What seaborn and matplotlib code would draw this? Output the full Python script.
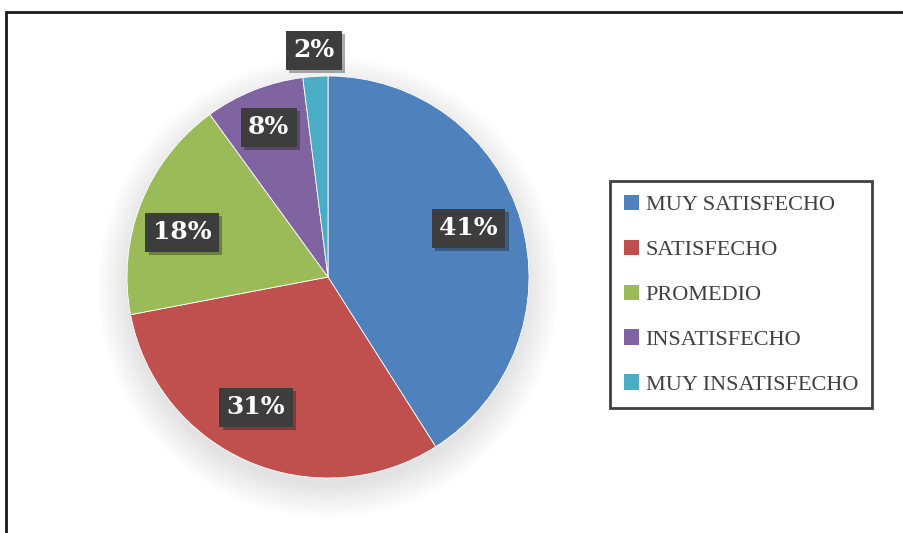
import numpy as np
import matplotlib
matplotlib.use("Agg")
import matplotlib.pyplot as plt
import matplotlib.patheffects as pe
from matplotlib.patches import Rectangle, Circle
import seaborn as sns

categories = ["MUY SATISFECHO", "SATISFECHO", "PROMEDIO", "INSATISFECHO", "MUY INSATISFECHO"]
values = [41, 31, 18, 8, 2]
labels = ["41%", "31%", "18%", "8%", "2%"]
colors = ["#4F81BD", "#C0504D", "#9BBB59", "#8064A2", "#4BACC6"]

sns.set_theme(style="white")
plt.rcParams["font.family"] = ["Liberation Serif", "DejaVu Serif"]

W, H = 904, 533
fig = plt.figure(figsize=(W / 100, H / 100), dpi=100)
fig.patch.set_facecolor("white")

# outer frame (left and top visible, extends off-canvas)
fig.patches.append(Rectangle((6 / W, -0.2), 1.2, 1.2 - 12 / H, transform=fig.transFigure,
                             fill=False, edgecolor="#1a1a1a", linewidth=2.0, clip_on=False))

cx, cy, r = 328, H - 277, 201
ax = fig.add_axes([(cx - r) / W, (cy - r) / H, 2 * r / W, 2 * r / H])

wedges, _ = ax.pie(values, colors=colors, startangle=90, counterclock=False, radius=1.0,
                   wedgeprops=dict(linewidth=0.6, edgecolor="white"))
for w in wedges:
    w.set_zorder(2)
ax.set_xlim(-1, 1)
ax.set_ylim(-1, 1)
ax.set_aspect("equal")
ax.axis("off")

# soft shadow behind the pie
for k in range(14):
    ax.add_patch(Circle((0.0, -0.05), 0.98 + 0.012 * (k + 1), facecolor="#000000",
                        alpha=0.009, edgecolor="none", zorder=0, clip_on=False))

# label placement (layout only): radial distance and angular nudge in degrees
dists = [0.74, 0.74, 0.76, 0.80, 1.13]
nudges = [3.0, -5.5, 4.5, 0.0, 0.0]
for w, lab, d, nd in zip(wedges, labels, dists, nudges):
    ang = np.deg2rad((w.theta1 + w.theta2) / 2 + nd)
    t = ax.text(d * np.cos(ang), d * np.sin(ang), lab, ha="center", va="center",
                color="white", fontsize=18, fontweight="bold", family=["DejaVu Serif"],
                zorder=5, clip_on=False,
                bbox=dict(boxstyle="square,pad=0.3", facecolor="#3d3d3d", edgecolor="none"))
    t.get_bbox_patch().set_path_effects([pe.SimplePatchShadow(offset=(2.5, -2.5), alpha=0.35),
                                         pe.Normal()])

leg = fig.legend(wedges, categories, loc="upper left",
                 bbox_to_anchor=(610 / W, 1 - 181 / H), frameon=True, fancybox=False,
                 fontsize=16, labelcolor="#404040", handlelength=0.68, handleheight=0.68,
                 handletextpad=0.3, labelspacing=1.1, borderpad=0.62, borderaxespad=0)
leg.get_frame().set_edgecolor("#111111")
leg.get_frame().set_linewidth(2.0)
for h in leg.legend_handles:
    h.set_edgecolor("none")

fig.savefig("out.png", dpi=100, facecolor="white")
